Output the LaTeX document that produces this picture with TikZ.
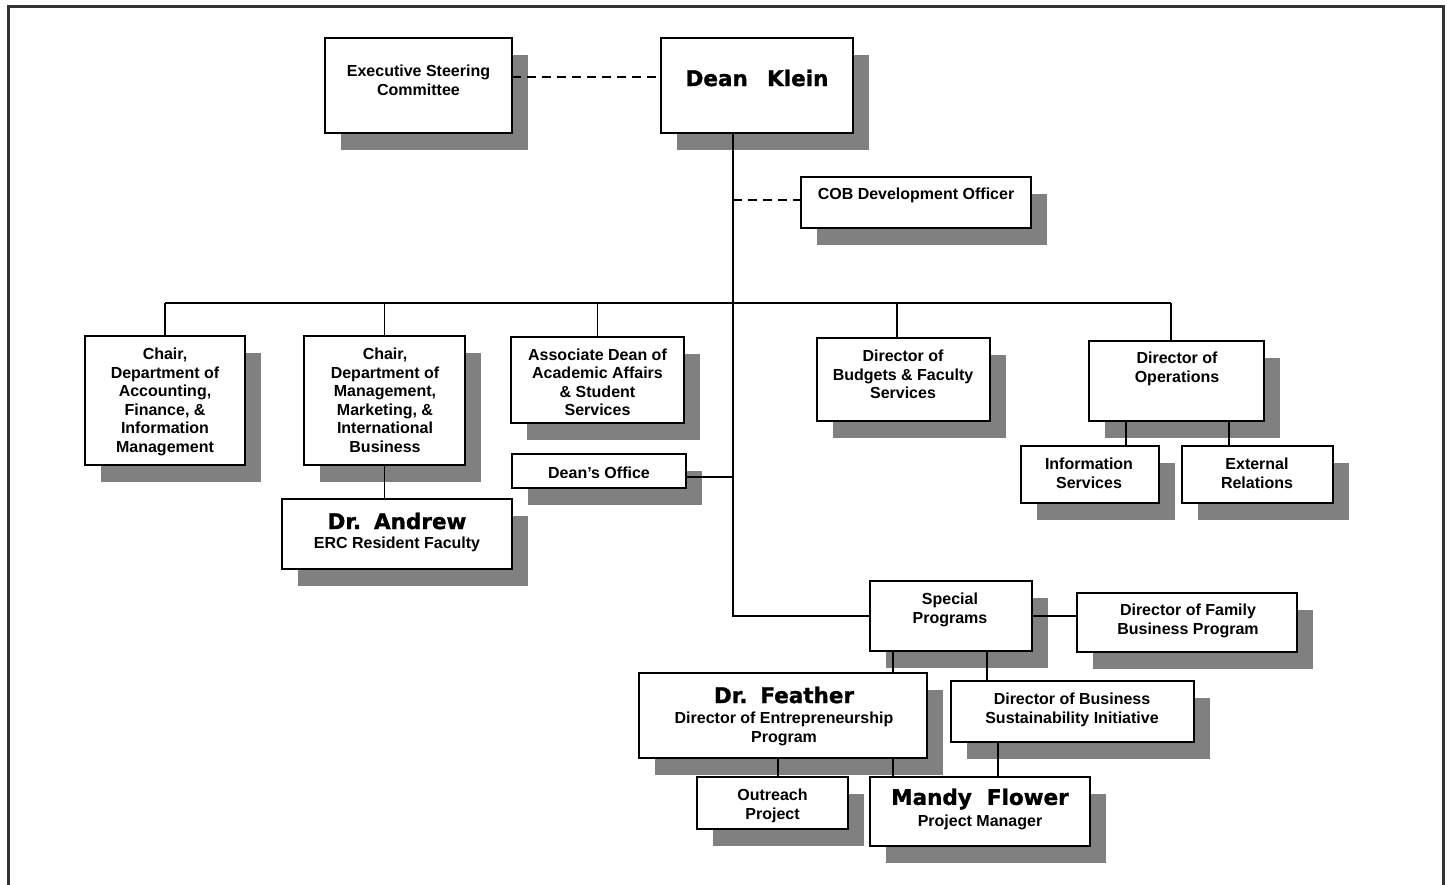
\documentclass[tikz,border=0pt]{standalone}
\usepackage{fontspec}
\setmainfont{Liberation Sans}
\newfontfamily\namefont{DejaVu Sans Bold}[FakeBold=1.2]
\usetikzlibrary{shadows}
\definecolor{shadowgray}{HTML}{808080}
\definecolor{framegray}{HTML}{333333}
\newcommand\orgbox[5]{%
  \node[box, minimum width={(#4)-(#2)}, minimum height={(#5)-(#3)}] (#1) at ({((#2)+(#4))/2},{((#3)+(#5))/2}) {};}
\begin{document}
\begin{tikzpicture}[x=1pt,y=-1pt,
  box/.style={draw=black, line width=1.8pt, fill=white, rectangle, inner sep=0pt, outer sep=0pt,
    drop shadow={shadow xshift=16pt, shadow yshift=-17pt, fill=shadowgray, opacity=1}},
  txt/.style={font=\fontsize{16}{18.5}\selectfont\bfseries, align=center, inner sep=0pt,
    execute at begin node=\strut, execute at end node=\strut},
  nametxt/.style={font=\namefont\fontsize{21.5}{25}\selectfont, inner sep=0pt},
  conn/.style={draw=black, line width=1.8pt},
  dashline/.style={draw=black, line width=1.8pt, dash pattern=on 9pt off 6pt}]
\useasboundingbox (0,0) rectangle (1447,884);
\draw[framegray, line width=3pt] (8,6) rectangle (1443,900);

% boxes
\orgbox{esc}{325}{38}{512}{133}
\orgbox{dean}{661}{38}{853}{133}
\orgbox{cob}{801}{177}{1031}{228}
\orgbox{acc}{85}{336}{245}{465}
\orgbox{mgmt}{304}{336}{465}{465}
\orgbox{andrew}{282}{499}{512}{569}
\orgbox{assoc}{511}{337}{684}{423}
\orgbox{office}{512}{454}{686}{488}
\orgbox{budgets}{817}{338}{990}{421}
\orgbox{ops}{1089}{341}{1264}{421}
\orgbox{info}{1021}{446}{1159}{503}
\orgbox{ext}{1182}{446}{1333}{503}
\orgbox{special}{870}{581}{1032}{651}
\orgbox{family}{1077}{593}{1297}{652}
\orgbox{feather}{639}{673}{927}{758}
\orgbox{sust}{951}{681}{1194}{742}
\orgbox{outreach}{697}{777}{848}{829}
\orgbox{mandy}{870}{777}{1090}{846}

% texts
\node[txt] (esc-t) at (418.5,83) {Executive Steering\\Committee};
\node[nametxt] (dean-t) at (757,78) {Dean\hspace{0.9em}Klein};
\node[txt] (cob-t) at (916,196) {COB Development Officer};
\node[txt] (acc-t) at (165,403) {Chair,\\Department of\\Accounting,\\Finance, \&\\Information\\Management};
\node[txt] (mgmt-t) at (385,403) {Chair,\\Department of\\Management,\\Marketing, \&\\International\\Business};
\node[nametxt] (andrew-n) at (397,521) {Dr.\hspace{0.6em}Andrew};
\node[txt] (andrew-s) at (397,545) {ERC Resident Faculty};
\node[txt] (assoc-t) at (597.5,385) {Associate Dean of\\Academic Affairs\\\& Student\\Services};
\node[txt] (office-t) at (599,474.5) {Dean’s Office};
\node[txt] (budgets-t) at (903,377) {Director of\\Budgets \& Faculty\\Services};
\node[txt] (ops-t) at (1177,370) {Director of\\Operations};
\node[txt] (info-t) at (1089,476) {Information\\Services};
\node[txt] (ext-t) at (1257,476) {External\\Relations};
\node[txt] (special-t) at (950,611) {Special\\Programs};
\node[txt] (family-t) at (1188,622) {Director of Family\\Business Program};
\node[nametxt] (feather-n) at (784,695) {Dr.\hspace{0.6em}Feather};
\node[txt] (feather-s) at (784,730) {Director of Entrepreneurship\\Program};
\node[txt] (sust-t) at (1072,711) {Director of Business\\Sustainability Initiative};
\node[txt] (outreach-t) at (772.5,807) {Outreach\\Project};
\node[nametxt] (mandy-n) at (980,799) {Mandy\hspace{0.7em}Flower};
\node[txt] (mandy-s) at (980,823) {Project Manager};

% connector helper coordinates
\coordinate (tr) at (733,0);
\coordinate (d1) at (0,77);
\coordinate (bus) at (0,303);
\coordinate (xb) at (897,0);
\coordinate (xo) at (1171,0);
\coordinate (xi) at (1126,0);
\coordinate (xe) at (1229,0);
\coordinate (xf) at (893,0);
\coordinate (xs) at (987,0);
\coordinate (xr) at (778,0);
\coordinate (xm) at (998,0);
\coordinate (yo) at (0,477);
\coordinate (yc) at (0,200);

% connectors
\draw[dashline] (esc.east |- d1) -- (dean.west |- d1);
\draw[dashline] (tr |- yc) -- (cob.west |- yc);
\draw[conn] (dean.south -| tr) -- (tr |- special.west) -- (special.west);
\draw[conn] (acc.north |- bus) -- (xo |- bus);
\draw[conn] (acc.north |- bus) -- (acc.north);
\draw[conn] (mgmt.north |- bus) -- (mgmt.north);
\draw[conn] (assoc.north |- bus) -- (assoc.north);
\draw[conn] (xb |- bus) -- (xb |- budgets.north);
\draw[conn] (xo |- bus) -- (xo |- ops.north);
\draw[conn] (office.east |- yo) -- (tr |- yo);
\draw[conn] (mgmt.south) -- (mgmt.south |- andrew.north);
\draw[conn] (xi |- ops.south) -- (xi |- info.north);
\draw[conn] (xe |- ops.south) -- (xe |- ext.north);
\draw[conn] (special.east) -- (family.west |- special.east);
\draw[conn] (xf |- special.south) -- (xf |- feather.north);
\draw[conn] (xs |- special.south) -- (xs |- sust.north);
\draw[conn] (xr |- feather.south) -- (xr |- outreach.north);
\draw[conn] (xf |- feather.south) -- (xf |- mandy.north);
\draw[conn] (xm |- sust.south) -- (xm |- mandy.north);
\end{tikzpicture}
\end{document}
